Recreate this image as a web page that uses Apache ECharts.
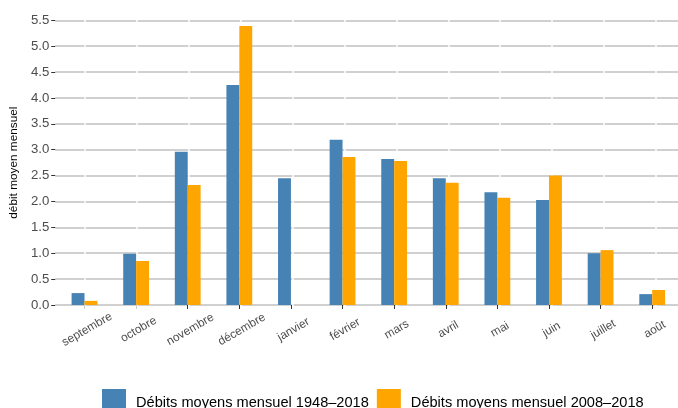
<!DOCTYPE html>
<html>
<head>
<meta charset="utf-8">
<script src="https://cdn.jsdelivr.net/npm/echarts@6/dist/echarts.min.js"></script>
<style>html,body{margin:0;padding:0;background:#fff}#c{width:678px;height:408px}</style>
</head>
<body>
<div id="c"></div>
<script>
const months = ['septembre','octobre','novembre','décembre','janvier','février','mars','avril','mai','juin','juillet','août'];
const debits1948 = [0.23, 0.99, 2.96, 4.25, 2.45, 3.19, 2.82, 2.45, 2.18, 2.03, 1.00, 0.21];
const debits2008 = [0.08, 0.85, 2.32, 5.39, 0, 2.86, 2.78, 2.36, 2.07, 2.50, 1.06, 0.29];
const seriesNames = ['Débits moyens mensuel 1948–2018', 'Débits moyens mensuel 2008–2018'];
const yMin = 0, yMax = 5.5, yStep = 0.5;

const FONT = 'Liberation Sans, Arial, Helvetica, sans-serif';
const chart = echarts.init(document.getElementById('c'), null, {renderer: 'canvas'});
const gTop = 20.3, gBottom = 103;
chart.setOption({
  animation: false,
  textStyle: {fontFamily: FONT},
  grid: [
    {left: 53.5, width: 634, top: gTop, bottom: gBottom},
    {left: 84.7, right: 22, top: 10, bottom: gBottom - 6},
    {left: 58.7, width: 623.3, top: gTop, bottom: gBottom}
  ],
  xAxis: [
    {gridIndex: 0, type: 'value', min: 0, max: 1, show: false},
    {gridIndex: 1, type: 'category', data: months, boundaryGap: false, z: 1,
     axisLine: {show: false}, axisTick: {show: false}, axisLabel: {show: false, interval: 0},
     splitLine: {show: true, interval: 0, lineStyle: {color: '#ffffff', width: 1.5}}},
    {gridIndex: 2, type: 'category', data: months, boundaryGap: true, offset: 11,
     axisLine: {show: false},
     axisTick: {show: true, alignWithLabel: true, length: 4, interval: 0, lineStyle: {color: '#333333', width: 1}},
     axisLabel: {interval: 0, rotate: 30, align: 'center', verticalAlign: 'middle', margin: 15,
                 padding: [0, 0, 0, 6],
                 fontSize: 11.8, color: '#4d4d4d', fontFamily: FONT},
     splitLine: {show: false}}
  ],
  yAxis: [
    {gridIndex: 0, type: 'value', min: yMin, max: yMax, interval: yStep, z: 0,
     name: 'débit moyen mensuel', nameLocation: 'middle', nameGap: 28,
     nameTextStyle: {fontSize: 11.8, color: '#000000', fontFamily: FONT},
     axisLine: {show: false},
     axisTick: {show: true, length: 4, lineStyle: {color: '#333333', width: 1}},
     axisLabel: {fontSize: 13.2, color: '#4d4d4d', margin: 6, fontFamily: FONT,
                 formatter: v => v.toFixed(1)},
     splitLine: {show: true, lineStyle: {color: '#c0c0c0', width: 1.7}}},
    {gridIndex: 1, type: 'value', min: yMin, max: yMax, show: false},
    {gridIndex: 2, type: 'value', min: yMin, max: yMax, interval: yStep, show: false}
  ],
  legend: {
    left: 97, top: 384, itemWidth: 24, itemHeight: 27, itemGap: 8, icon: 'rect',
    textStyle: {fontSize: 14.6, color: '#000000', fontFamily: FONT, padding: [0, 0, 0, 5]},
    data: seriesNames
  },
  series: [
    {name: seriesNames[0], type: 'bar', xAxisIndex: 2, yAxisIndex: 2, data: debits1948,
     barWidth: '25%', barGap: '0%', itemStyle: {color: '#4682b4'}},
    {name: seriesNames[1], type: 'bar', xAxisIndex: 2, yAxisIndex: 2, data: debits2008,
     barWidth: '25%', barGap: '0%', itemStyle: {color: '#ffa500'}}
  ]
});
</script>
</body>
</html>
